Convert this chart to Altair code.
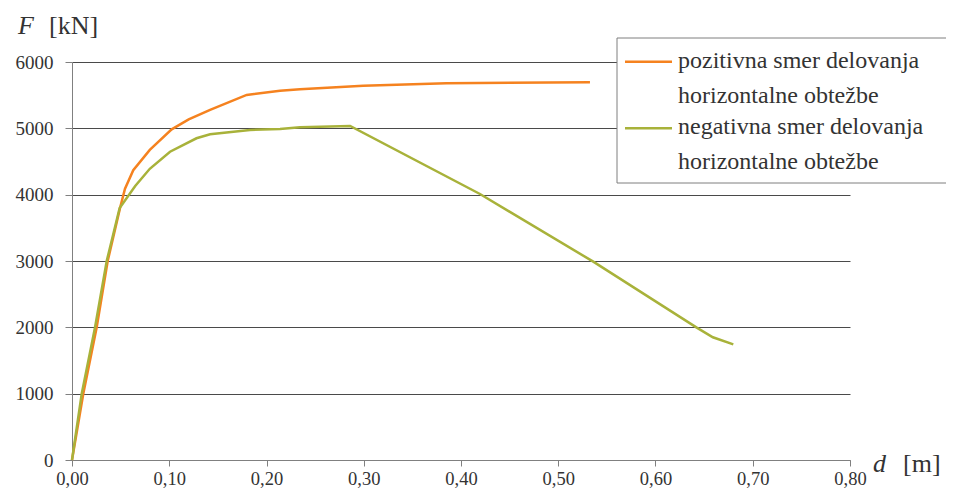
import altair as alt
import pandas as pd

# ---- data ----
series_names = ["pozitivna smer delovanja\nhorizontalne obtežbe",
                "negativna smer delovanja\nhorizontalne obtežbe"]
series_colors = ["#F5821F", "#A8B23A"]

pos_d = [0, 0.0116, 0.0254, 0.0367, 0.0494, 0.0545, 0.063, 0.080, 0.1025, 0.120,
         0.142, 0.1796, 0.2139, 0.2344, 0.2995, 0.385, 0.5326]
pos_F = [0, 1000, 2000, 3000, 3800, 4090, 4370, 4674, 4985, 5135,
         5277, 5503, 5567, 5588, 5643, 5679, 5694]

neg_d = [0, 0.010, 0.0237, 0.0357, 0.049, 0.065, 0.080, 0.1008, 0.128, 0.142, 0.183,
         0.2139, 0.2344, 0.286, 0.4195, 0.536, 0.642, 0.659, 0.680]
neg_F = [0, 1000, 2000, 3000, 3800, 4130, 4390, 4648, 4850, 4910, 4975,
         4990, 5015, 5035, 4010, 2990, 2000, 1850, 1744]

x_ticks = [0, 0.1, 0.2, 0.3, 0.4, 0.5, 0.6, 0.7, 0.8]
y_ticks = [0, 1000, 2000, 3000, 4000, 5000, 6000]

FONT = "Liberation Serif"
TXT = "#333333"

rows = []
for i, (d, f) in enumerate(zip(pos_d, pos_F)):
    rows.append({"d": d, "F": f, "s": series_names[0], "o": i})
for i, (d, f) in enumerate(zip(neg_d, neg_F)):
    rows.append({"d": d, "F": f, "s": series_names[1], "o": i})
df = pd.DataFrame(rows)

lines = alt.Chart(df).mark_line(strokeWidth=2.5, clip=False).encode(
    x=alt.X("d:Q",
            scale=alt.Scale(domain=[0, 0.8], nice=False),
            axis=alt.Axis(values=x_ticks, grid=False, title=None,
                          labelExpr="replace(format(datum.value, '.2f'), '.', ',')",
                          labelFlush=False, labelOverlap=False,
                          tickSize=6, labelPadding=3,
                          domainColor="#808080", tickColor="#808080",
                          labelFont=FONT, labelFontSize=18.5, labelColor=TXT)),
    y=alt.Y("F:Q",
            scale=alt.Scale(domain=[0, 6000], nice=False),
            axis=alt.Axis(values=y_ticks, grid=True, title=None, format="d",
                          gridColor="#4a4a4a", gridWidth=1,
                          tickSize=7, labelPadding=12,
                          domainColor="#808080", tickColor="#808080",
                          labelFont=FONT, labelFontSize=19, labelColor=TXT)),
    color=alt.Color("s:N", scale=alt.Scale(domain=series_names, range=series_colors),
                    legend=None),
    order="o:Q",
)

one = pd.DataFrame({"a": [0]})

# legend box
box = alt.Chart(one).mark_rect(fill="white", stroke="#7f7f7f", strokeWidth=1).encode(
    x=alt.value(545), x2=alt.value(905), y=alt.value(-24), y2=alt.value(121))

layers = [lines, box]
sym_y = [-0.3, 66.3]
txt_y = [5.5, 72]
for name, col, sy, ty in zip(series_names, series_colors, sym_y, txt_y):
    layers.append(alt.Chart(one).mark_rule(color=col, strokeWidth=2.5).encode(
        x=alt.value(553), x2=alt.value(600), y=alt.value(sy)))
    layers.append(alt.Chart(pd.DataFrame({"t": [name]})).mark_text(
        align="left", baseline="alphabetic", font=FONT, fontSize=24,
        color=TXT, lineBreak="\n", lineHeight=35).encode(
        text="t:N", x=alt.value(606), y=alt.value(ty)))

# axis titles
def label(t, x, y, italic=False):
    return alt.Chart(pd.DataFrame({"t": [t]})).mark_text(
        align="left", baseline="alphabetic", font=FONT, fontSize=26,
        fontStyle="italic" if italic else "normal", color=TXT).encode(
        text="t:N", x=alt.value(x), y=alt.value(y))

layers += [label("F", -54, -28, True), label("[kN]", -23, -28),
           label("d", 801, 410, True), label("[m]", 831, 410)]

chart = alt.layer(*layers).properties(
    width=778, height=398,
    padding={"left": 64, "top": 54, "right": 96, "bottom": 30},
    autosize=alt.AutoSizeParams(type="none"),
).configure_view(stroke="transparent")

chart.save("out.html", embed_options={"renderer": "svg", "actions": False})
